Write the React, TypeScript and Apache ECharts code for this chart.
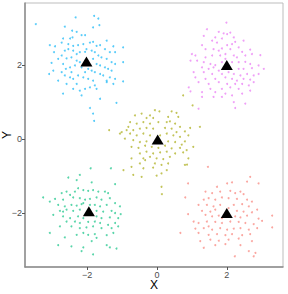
import React, { useEffect, useRef } from "react";
import * as echarts from "echarts";

// cluster points (x, y)
const cluster4: number[][] = [
  [-3.47, 3.11], [-2.33, 3.29], [-1.8, 3.33], [-1.68, 3.26], [-1.65, 3.08], [-1.83, 3.02], [-2.64, 3.04], [-2.43, 2.93],
  [-2.3, 2.9], [-2.06, 2.81], [-2.16, 2.81], [-2.69, 2.72], [-2.49, 2.72], [-2.42, 2.75], [-1.44, 2.66], [-3.07, 2.54],
  [-2.92, 2.51], [-2.95, 2.35], [-2.73, 2.61], [-2.54, 2.57], [-2.4, 2.52], [-2.26, 2.54], [-2.11, 2.57], [-1.92, 2.61],
  [-1.83, 2.63], [-1.73, 2.52], [-1.63, 2.54], [-1.25, 2.51], [-1.2, 2.35], [-0.97, 2.48], [-1.35, 2.35], [-1.49, 2.43],
  [-2.64, 2.39], [-2.54, 2.43], [-2.4, 2.39], [-2.3, 2.3], [-2.21, 2.35], [-2.06, 2.36], [-2.02, 2.43], [-1.87, 2.39],
  [-1.78, 2.35], [-1.68, 2.26], [-1.59, 2.21], [-1.44, 2.17], [-1.3, 2.08], [-1.2, 2.03], [-0.97, 2.08], [-3.02, 2.06],
  [-2.83, 2.17], [-2.73, 2.26], [-2.59, 2.18], [-2.45, 2.21], [-2.3, 2.12], [-2.21, 2.08], [-1.83, 2.17], [-1.73, 2.03],
  [-1.63, 1.99], [-1.49, 1.94], [-1.4, 1.9], [-2.69, 2.03], [-2.61, 1.9], [-2.49, 1.94], [-2.35, 1.99], [-2.16, 1.94],
  [-1.97, 1.9], [-1.87, 1.85], [-1.78, 1.81], [-1.63, 1.76], [-1.54, 1.72], [-1.35, 1.67], [-1.2, 1.63], [-0.97, 1.56],
  [-3.09, 1.76], [-2.64, 1.72], [-2.49, 1.67], [-2.4, 1.63], [-2.26, 1.72], [-2.11, 1.67], [-1.97, 1.63], [-1.83, 1.58],
  [-1.44, 1.54], [-1.25, 1.49], [-2.59, 1.49], [-2.4, 1.36], [-2.21, 1.31], [-2.06, 1.36], [-1.92, 1.4], [-1.78, 1.45],
  [-2.16, 1.18], [-2.69, 1.23], [-1.63, 1.09], [-1.16, 0.98], [-1.92, 0.84], [-1.83, 0.69], [-1.8, 0.49], [-1.44, 1.58],
  [-2.3, 1.49], [-1.73, 1.36], [-2.83, 1.58], [-2.73, 1.81], [-2.45, 1.81], [-2.06, 1.81], [-2.97, 1.85], [-1.3, 1.85],
];

const cluster5: number[][] = [
  [1.99, 3.15], [1.43, 2.97], [1.77, 2.9], [1.91, 2.86], [2.01, 2.84], [2.1, 2.88], [1.34, 2.79], [1.67, 2.75],
  [1.86, 2.72], [1.58, 2.66], [2.24, 2.63], [2.15, 2.57], [1.29, 2.54], [1.72, 2.61], [2.01, 2.54], [1.86, 2.45],
  [1.62, 2.43], [1.77, 2.39], [2.1, 2.43], [2.34, 2.48], [2.44, 2.36], [2.67, 2.42], [2.96, 2.27], [1.0, 2.3],
  [1.1, 2.26], [1.39, 2.21], [1.58, 2.26], [1.81, 2.26], [1.96, 2.3], [2.2, 2.26], [2.29, 2.21], [2.53, 2.26],
  [2.72, 2.3], [0.96, 2.12], [1.15, 2.12], [1.34, 2.08], [1.53, 2.03], [1.67, 2.0], [1.86, 2.08], [2.15, 2.08],
  [2.34, 2.08], [2.53, 2.09], [2.67, 2.03], [2.91, 1.99], [1.29, 1.94], [1.48, 1.9], [1.62, 1.94], [1.77, 1.85],
  [2.34, 1.9], [2.48, 1.9], [2.72, 1.92], [3.06, 1.9], [1.05, 1.81], [1.34, 1.81], [1.58, 1.76], [1.86, 1.76],
  [2.05, 1.81], [2.2, 1.76], [2.39, 1.72], [2.58, 1.76], [2.77, 1.72], [2.91, 1.76], [1.1, 1.67], [1.39, 1.63],
  [1.67, 1.63], [1.96, 1.67], [2.15, 1.63], [2.29, 1.58], [2.48, 1.63], [2.67, 1.61], [1.19, 1.54], [1.48, 1.49],
  [1.77, 1.54], [2.01, 1.49], [2.24, 1.49], [2.44, 1.49], [2.63, 1.45], [0.91, 1.4], [1.53, 1.36], [1.86, 1.36],
  [2.1, 1.4], [2.34, 1.36], [2.67, 1.31], [1.29, 1.27], [1.67, 1.27], [1.96, 1.23], [2.15, 1.18], [2.44, 1.23],
  [1.62, 1.14], [1.86, 1.14], [1.29, 1.14], [2.2, 1.0], [2.53, 0.96], [2.24, 0.84], [0.96, 1.29], [2.77, 1.54],
  [1.39, 2.43], [2.2, 2.75], [2.48, 2.66], [1.96, 2.17], [1.19, 0.82],
];

const cluster2: number[][] = [
  [-0.06, 0.78], [0.07, 0.75], [0.42, 0.75], [0.56, 0.71], [-0.44, 0.69], [-0.2, 0.64], [-0.3, 0.57], [-0.11, 0.57],
  [0.32, 0.6], [0.61, 0.6], [-0.63, 0.64], [-0.77, 0.46], [-0.58, 0.42], [-0.39, 0.46], [-0.2, 0.42], [0.04, 0.46],
  [0.28, 0.46], [0.37, 0.48], [0.52, 0.42], [0.95, 0.3], [1.23, 0.33], [-0.87, 0.24], [-0.68, 0.24], [-0.49, 0.28],
  [-0.3, 0.3], [-0.11, 0.28], [0.23, 0.3], [0.42, 0.28], [0.66, 0.33], [0.8, 0.21], [-1.01, 0.19], [-0.77, 0.15],
  [-0.58, 0.1], [-0.39, 0.15], [-0.2, 0.1], [0.28, 0.15], [0.47, 0.1], [0.66, 0.06], [0.9, 0.1], [-0.92, 0.01],
  [-0.68, -0.03], [-0.49, -0.08], [-0.3, -0.06], [0.32, -0.06], [0.52, -0.08], [0.8, -0.06], [1.04, -0.21], [-0.73, -0.21],
  [-0.53, -0.24], [-0.34, -0.18], [-0.15, -0.21], [0.04, -0.24], [0.23, -0.18], [0.42, -0.25], [0.66, -0.24], [0.85, -0.3],
  [-0.49, -0.39], [-0.3, -0.34], [-0.11, -0.39], [0.09, -0.36], [0.28, -0.34], [0.52, -0.39], [0.75, -0.36], [-0.73, -0.52],
  [-0.39, -0.52], [-0.2, -0.48], [-0.01, -0.52], [0.18, -0.54], [0.37, -0.48], [0.9, -0.52], [-0.49, -0.66], [-0.06, -0.66],
  [0.13, -0.7], [0.32, -0.66], [0.8, -0.7], [-0.96, -0.84], [-0.73, -0.75], [-0.39, -0.79], [-0.11, -0.77], [0.28, -0.84],
  [-0.68, -0.97], [-0.44, -1.02], [-0.01, -0.99], [0.13, -0.93], [0.13, -1.29], [-1.06, 0.15], [-0.82, 0.33], [0.56, 0.19],
  [0.71, -0.15], [0.09, 0.1], [-0.34, -0.57], [0.75, 1.18], [1.02, 0.91], [-1.37, 0.24], [0.14, -1.49], [0.86, -0.69],
];

const cluster3: number[][] = [
  [-1.9, -0.79], [-1.32, -0.79], [-2.21, -0.97], [-2.54, -1.04], [-2.3, -1.11], [-1.87, -1.17], [-1.2, -1.22], [-2.73, -1.46],
  [-2.59, -1.42], [-2.49, -1.51], [-2.26, -1.33], [-2.11, -1.38], [-1.97, -1.4], [-1.83, -1.38], [-1.68, -1.42], [-1.49, -1.42],
  [-1.4, -1.46], [-3.26, -1.58], [-2.92, -1.62], [-2.69, -1.64], [-2.4, -1.58], [-2.21, -1.6], [-2.06, -1.64], [-1.92, -1.62],
  [-1.73, -1.58], [-1.59, -1.64], [-1.35, -1.6], [-1.2, -1.73], [-3.07, -1.69], [-2.83, -1.78], [-2.64, -1.82], [-2.45, -1.78],
  [-2.3, -1.8], [-2.16, -1.76], [-1.78, -1.78], [-1.63, -1.82], [-1.44, -1.78], [-1.06, -1.82], [-2.78, -1.94], [-2.59, -1.91],
  [-2.4, -1.94], [-2.21, -1.91], [-1.73, -1.94], [-1.54, -1.96], [-1.3, -1.94], [-1.2, -2.0], [-1.04, -2.03], [-2.97, -2.05],
  [-2.69, -2.09], [-2.49, -2.14], [-2.26, -2.09], [-2.11, -2.14], [-1.73, -2.09], [-1.59, -2.14], [-1.35, -2.12], [-1.11, -2.14],
  [-2.59, -2.23], [-2.35, -2.23], [-2.21, -2.27], [-1.97, -2.24], [-1.78, -2.23], [-1.63, -2.27], [-1.4, -2.32], [-1.2, -2.27],
  [-2.78, -2.36], [-2.45, -2.36], [-2.21, -2.41], [-2.02, -2.39], [-1.83, -2.36], [-1.59, -2.41], [-1.3, -2.41], [-1.11, -2.36],
  [-3.07, -2.54], [-2.64, -2.66], [-2.3, -2.59], [-2.11, -2.54], [-1.97, -2.59], [-1.78, -2.57], [-1.44, -2.6], [-1.25, -2.54],
  [-2.83, -2.87], [-2.45, -2.9], [-2.11, -2.93], [-1.87, -2.76], [-1.73, -2.67], [-1.44, -2.87], [-1.35, -2.93], [-1.16, -2.96],
  [-1.83, -3.12], [-2.16, -3.03], [-2.11, -1.73], [-1.92, -1.78], [-2.35, -1.42], [-2.69, -1.96],
];

const cluster1: number[][] = [
  [1.46, -0.75], [2.67, -1.02], [0.89, -1.2], [2.01, -1.2], [2.15, -1.17], [2.58, -1.15], [2.91, -1.2], [1.72, -1.29],
  [1.39, -1.42], [1.58, -1.46], [1.81, -1.42], [2.1, -1.4], [2.24, -1.46], [2.39, -1.42], [2.48, -1.49], [0.81, -1.58],
  [1.34, -1.64], [1.48, -1.6], [1.67, -1.64], [1.86, -1.58], [2.05, -1.6], [2.29, -1.62], [2.58, -1.64], [2.72, -1.69],
  [1.19, -1.78], [1.43, -1.78], [1.62, -1.82], [1.81, -1.78], [2.2, -1.78], [2.44, -1.76], [2.63, -1.82], [2.87, -1.91],
  [1.29, -1.94], [1.53, -1.96], [1.67, -1.91], [2.29, -1.94], [2.48, -1.96], [2.72, -1.98], [0.89, -2.03], [1.39, -2.05],
  [1.58, -2.09], [1.77, -2.07], [2.24, -2.09], [2.39, -2.12], [2.58, -2.07], [2.91, -2.15], [3.3, -2.07], [1.05, -2.23],
  [1.19, -2.27], [1.43, -2.23], [1.67, -2.24], [1.86, -2.27], [2.1, -2.23], [2.34, -2.24], [2.53, -2.27], [2.77, -2.3],
  [3.01, -2.21], [3.3, -2.39], [0.67, -2.54], [1.1, -2.42], [1.34, -2.41], [1.58, -2.45], [1.81, -2.41], [2.01, -2.45],
  [2.2, -2.42], [2.39, -2.41], [2.63, -2.45], [2.87, -2.41], [1.19, -2.54], [1.48, -2.59], [1.72, -2.57], [1.96, -2.6],
  [2.15, -2.57], [2.44, -2.6], [2.67, -2.57], [1.24, -2.76], [1.53, -2.72], [1.77, -2.75], [2.05, -2.72], [2.34, -2.69],
  [2.72, -2.76], [1.67, -2.87], [1.96, -2.84], [1.34, -2.94], [2.39, -2.87], [2.63, -3.03], [2.82, -3.08], [2.77, -3.17],
  [2.23, -3.17], [1.86, -2.14], [2.05, -1.87], [1.48, -2.36],
];

const centers: number[][] = [
  [2.0, -2.0], [0.02, -0.01], [-1.95, -1.95], [-2.02, 2.1], [2.0, 2.0],
];

const clusterColors = ["#F8766D", "#A3A500", "#00BF7D", "#00B0F6", "#E76BF3"];
const tickValues = [-2, 0, 2];

export default function App() {
  const ref = useRef<HTMLDivElement>(null);
  useEffect(() => {
    if (!ref.current) return;
    const chart = echarts.init(ref.current, null, { renderer: "svg" });
    const clusters = [cluster1, cluster2, cluster3, cluster4, cluster5];
    const fmt = (v: number) => (v < 0 ? "\u2212" + Math.abs(v) : String(v));
    const axisCommon = {
      splitLine: { show: false },
      axisLine: { show: true, onZero: false, lineStyle: { color: "#8c8c8c", width: 1.5 } },
      axisTick: { show: true, length: 3, customValues: tickValues, lineStyle: { color: "#555", width: 1 } },
      axisLabel: {
        customValues: tickValues,
        formatter: fmt,
        color: "#4d4d4d",
        fontSize: 9,
        fontFamily: "Liberation Sans, Arial, sans-serif",
        margin: 3,
      },
      nameLocation: "middle" as const,
      nameMoveOverlap: false,
      nameTextStyle: { color: "#000", fontSize: 12, fontFamily: "Liberation Sans, Arial, sans-serif" },
    };
    chart.setOption({
      animation: false,
      grid: {
        left: 25, right: 5, top: 3, bottom: 27,
        containLabel: false,
        outerBoundsMode: "none",
        show: true, borderColor: "#bdbdbd", borderWidth: 1, backgroundColor: "#fff",
      },
      xAxis: { type: "value", min: -3.78, max: 3.61, name: "X", nameGap: 12, ...axisCommon },
      yAxis: { type: "value", min: -3.46, max: 3.68, name: "Y", nameGap: 12, nameRotate: 90, ...axisCommon },
      series: [
        ...clusters.map((c, i) => ({
          type: "scatter",
          data: c,
          symbol: "circle",
          symbolSize: 2,
          itemStyle: { color: clusterColors[i], opacity: 0.65 },
          silent: true,
        })),
        {
          type: "scatter",
          data: centers,
          symbol: "triangle",
          symbolSize: [12, 10],
          itemStyle: { color: "#000", opacity: 1 },
          z: 10,
          silent: true,
        },
      ],
    });
    return () => chart.dispose();
  }, []);
  return <div ref={ref} style={{ width: 288, height: 294, position: "absolute", left: 0, top: 0 }} />;
}
